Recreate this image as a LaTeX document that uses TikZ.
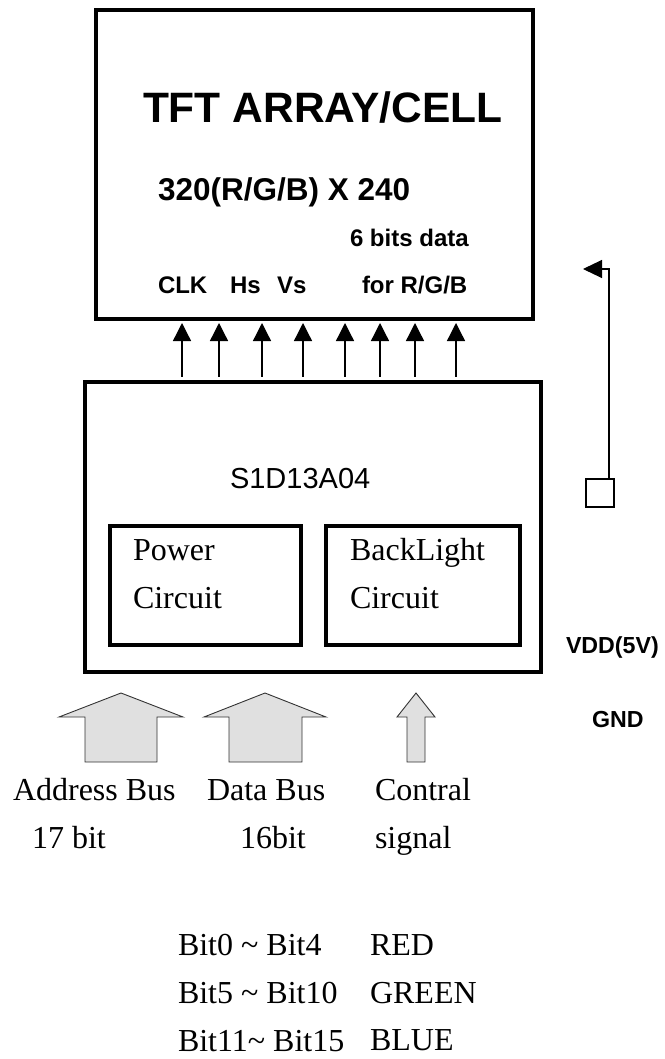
\documentclass[tikz,border=0pt]{standalone}
\usepackage{fontspec}
\setmainfont{Liberation Serif}
\newfontfamily\arialf{Liberation Sans}
\usetikzlibrary{arrows.meta}
\begin{document}
\begin{tikzpicture}[x=1pt,y=-1pt,
  box/.style={draw, rectangle, line width=4pt, inner sep=0pt, outer sep=0pt},
  sig/.style={line width=1.3pt, -{Triangle[length=18pt,width=18pt]}},
  bus/.style={draw=black!80, fill=black!12, line width=0.9pt, line join=miter},
  lbl/.style={inner sep=0pt, outer sep=0pt, anchor=base west},
  sfbig/.style={lbl, font=\arialf\bfseries\fontsize{42.5}{48}\selectfont},
  sfmid/.style={lbl, font=\arialf\bfseries\fontsize{31.5}{36}\selectfont},
  sfsml/.style={lbl, font=\arialf\bfseries\fontsize{24}{28}\selectfont},
  sfreg/.style={lbl, font=\arialf\fontsize{29}{34}\selectfont},
  sfvdd/.style={lbl, font=\arialf\bfseries\fontsize{23.2}{28}\selectfont},
  rm/.style={lbl, font=\fontsize{32}{38}\selectfont}]
\useasboundingbox (0,0) rectangle (664,1059);

% main boxes
\node[box, minimum width=437.5pt, minimum height=309pt] (tft) at (314.25,164.5) {};
\node[box, minimum width=456pt, minimum height=290.5pt] (chip) at (313,526.75) {};
\node[box, minimum width=191.5pt, minimum height=119pt] (pwr) at (205.25,585.5) {};
\node[box, minimum width=194pt, minimum height=119pt] (bl) at (423,585.5) {};

% TFT texts
\node[sfbig] (title) at (143,123) {TFT ARRAY/CELL};
\node[sfmid] (res) at (158,201) {320(R/G/B) X 240};
\node[sfsml] (six) at (350,247) {6 bits data};
\node[sfsml] (clk) at (158,293) {CLK};
\node[sfsml] (hs) at (230,293) {Hs};
\node[sfsml] (vs) at (277,293) {Vs};
\node[sfsml] (rgb) at (362,293) {for R/G/B};

% chip texts
\node[sfreg] (chipname) at (230,488) {S1D13A04};
\node[rm] (pw1) at (133,560) {Power};
\node[rm] (pw2) at (133,608) {Circuit};
\node[rm] (bl1) at (350,560) {BackLight};
\node[rm] (bl2) at (350,608) {Circuit};

% signal arrows
\foreach \x [count=\i] in {182,219,262,303,345,380,415,456} {
  \coordinate (a\i) at (\x,0);
  \draw[sig, shorten <=4.75pt, shorten >=4pt] (chip.north -| a\i) -- (tft.south -| a\i);
}

% right side: square with arrow
\node[draw, rectangle, line width=1.2pt, minimum size=28pt, inner sep=0pt, outer sep=0pt] (sq) at (600,493) {};
\coordinate (bend) at (609,269);
\coordinate (tip) at (583,269);
\draw[line width=1.1pt, -{Triangle[length=19pt,width=18pt]}] (sq.north -| bend) -- (bend) -- (tip);

\node[sfvdd] (vdd) at (566,653) {VDD(5V)};
\node[sfvdd] (gnd) at (592,727) {GND};

% bus block arrows
\draw[bus] (121,693) -- (183,717) -- (157,717) -- (157,762) -- (85,762) -- (85,717) -- (59,717) -- cycle;
\draw[bus] (265,693) -- (326,717) -- (302,717) -- (302,762) -- (229,762) -- (229,717) -- (204,717) -- cycle;
\draw[bus] (416,693) -- (435,717) -- (425,717) -- (425,762) -- (407,762) -- (407,717) -- (397,717) -- cycle;

% bus labels
\node[rm] (addr) at (13,800) {Address Bus};
\node[rm] (data) at (207,800) {Data Bus};
\node[rm] (ctl) at (375,800) {Contral};
\node[rm] (addr2) at (32,848) {17 bit};
\node[rm] (data2) at (240,848) {16bit};
\node[rm] (ctl2) at (375,848) {signal};

% bit table
\node[rm] (b1) at (178,955) {Bit0 \textasciitilde{} Bit4};
\node[rm] (b2) at (178,1003) {Bit5 \textasciitilde{} Bit10};
\node[rm] (b3) at (178,1051) {Bit11\textasciitilde{} Bit15};
\node[rm] (c1) at (370,955) {RED};
\node[rm] (c2) at (370,1003) {GREEN};
\node[rm] (c3) at (370,1050) {BLUE};
\end{tikzpicture}
\end{document}
